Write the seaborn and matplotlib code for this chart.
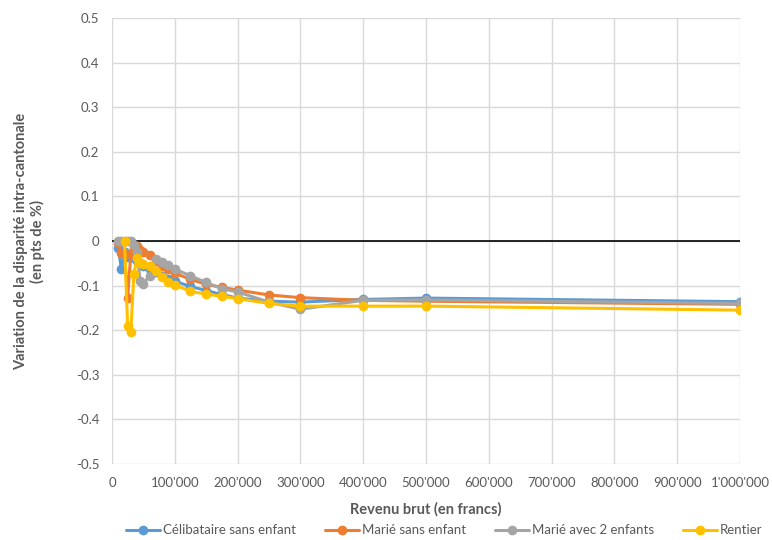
import seaborn as sns
import matplotlib.pyplot as plt
import matplotlib.ticker as mticker
import pandas as pd
import numpy as np

# revenus bruts (francs)
revenu = [10000, 15000, 20000, 25000, 30000, 35000, 40000, 45000, 50000, 60000,
          70000, 80000, 90000, 100000, 125000, 150000, 175000, 200000, 250000,
          300000, 400000, 500000, 1000000]

celibataire = [-0.015, -0.062, -0.025, -0.035, -0.033, -0.038, -0.045, -0.05, -0.055, -0.062,
               -0.07, -0.078, -0.085, -0.09, -0.102, -0.111, -0.12, -0.128, -0.135,
               -0.137, -0.131, -0.128, -0.136]
marie = [-0.005, -0.028, -0.03, -0.127, -0.03, -0.015, -0.012, -0.02, -0.025, -0.032,
         -0.045, -0.055, -0.063, -0.072, -0.086, -0.097, -0.104, -0.11, -0.121,
         -0.127, -0.133, -0.135, -0.142]
marie_2enf = [0.0, 0.0, 0.0, 0.0, 0.0, -0.008, -0.025, -0.09, -0.096, -0.078,
              -0.041, -0.048, -0.053, -0.063, -0.078, -0.093, -0.107, -0.114, -0.137,
              -0.153, -0.133, -0.132, -0.14]
rentier = [np.nan, np.nan, 0.0, -0.19, -0.204, -0.075, -0.037, -0.05, -0.052, -0.057,
           -0.067, -0.081, -0.091, -0.098, -0.113, -0.119, -0.124, -0.129, -0.14,
           -0.146, -0.146, -0.146, -0.155]

noms = ["Célibataire sans enfant", "Marié sans enfant", "Marié avec 2 enfants", "Rentier"]
couleurs = ["#5B9BD5", "#ED7D31", "#A5A5A5", "#FFC000"]

frames = []
for nom, vals in zip(noms, [celibataire, marie, marie_2enf, rentier]):
    frames.append(pd.DataFrame({"revenu": revenu, "variation": vals, "cas": nom}))
df = pd.concat(frames, ignore_index=True)

sns.set_style("white")
plt.rcParams['font.family'] = ['Lato', 'DejaVu Sans']

fig = plt.figure(figsize=(7.72, 5.4), dpi=100)
ax = fig.add_axes([0.145, 0.1407, 0.8135, 0.826])

sns.lineplot(data=df, x="revenu", y="variation", hue="cas", hue_order=noms,
             palette=couleurs, marker="o", markersize=7, markeredgewidth=0,
             linewidth=2.2, estimator=None, sort=False, ax=ax, zorder=3)

ax.set_xlim(0, 1000000)
ax.set_ylim(-0.5, 0.5)
ax.set_xticks(np.arange(0, 1000001, 100000))
ax.set_yticks(np.round(np.arange(-0.5, 0.51, 0.1), 1))
ax.xaxis.set_major_formatter(mticker.FuncFormatter(
    lambda v, p: "0" if v == 0 else f"{int(v):,}".replace(",", "'")))
ax.yaxis.set_major_formatter(mticker.FuncFormatter(
    lambda v, p: "0" if abs(v) < 1e-9 else f"{v:.1f}"))
ax.grid(True, color="#D9D9D9", linewidth=1)
ax.axhline(0, color="black", linewidth=1.2, zorder=2)
for s in ax.spines.values():
    s.set_visible(False)
ax.tick_params(colors="#595959", labelsize=9.5, length=0, pad=9)

ax.set_xlabel("Revenu brut (en francs)", fontsize=10.5, fontweight="bold", color="#595959", labelpad=10)
ax.set_ylabel("Variation de la disparité intra-cantonale\n(en pts de %)", fontsize=10.5,
              fontweight="bold", color="#595959", labelpad=22)

handles, labels = ax.get_legend_handles_labels()
ax.get_legend().remove()
leg = fig.legend(handles, labels, loc="center", bbox_to_anchor=(0.575, 0.018), ncol=4,
                 frameon=False, fontsize=9.5, handlelength=2.6, columnspacing=2.2,
                 handletextpad=0.2)
for t in leg.get_texts():
    t.set_color("#595959")

fig.savefig("out.png", dpi=100)
